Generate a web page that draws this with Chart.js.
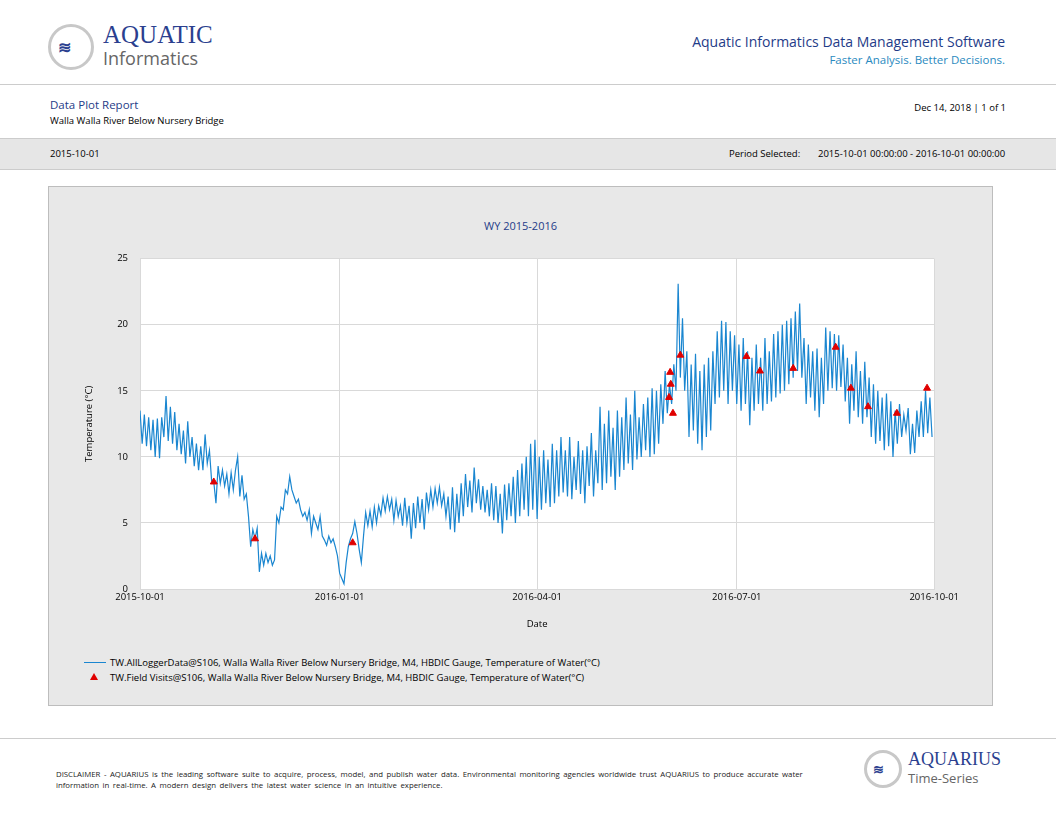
<!DOCTYPE html>
<html><head><meta charset="utf-8">
<script src="https://cdn.jsdelivr.net/npm/chart.js@4/dist/chart.umd.min.js"></script>
<style>
body{margin:0;width:1056px;height:816px;background:#fff;font-family:"Open Sans","Liberation Sans",sans-serif;position:relative;overflow:hidden}
.a{position:absolute;white-space:nowrap}
</style></head><body>
<!-- header -->
<div class="a" style="left:48px;top:24px;width:46px;height:46px;border-radius:50%;border:3px solid #c8c8c8;box-sizing:border-box;background:#fff"></div>
<div class="a" style="left:58px;top:36px;color:#2b3f8f;font-size:16px;font-weight:bold;letter-spacing:-1px">≋</div>
<div class="a" style="left:103px;top:21px;color:#2b3f8f;font-size:25px;font-family:'Liberation Serif',serif;line-height:28px">AQUATIC</div>
<div class="a" style="left:103px;top:47px;color:#666;font-size:18px;line-height:22px">Informatics</div>
<div class="a" style="right:51px;top:32px;color:#1f3c88;font-size:14px">Aquatic Informatics Data Management Software</div>
<div class="a" style="right:51px;top:52px;color:#2a8ac0;font-size:11.5px">Faster Analysis. Better Decisions.</div>
<div class="a" style="left:0;top:84px;width:1056px;border-top:1px solid #ccc"></div>
<div class="a" style="left:50px;top:97px;color:#1f3c88;font-size:11.5px">Data Plot Report</div>
<div class="a" style="left:50px;top:114px;color:#000;font-size:9.5px">Walla Walla River Below Nursery Bridge</div>
<div class="a" style="right:50px;top:101px;color:#000;font-size:9.5px">Dec 14, 2018 | 1 of 1</div>
<div class="a" style="left:0;top:138px;width:1056px;height:30px;background:#e6e6e6;border-top:1px solid #ccc;border-bottom:1px solid #ccc"></div>
<div class="a" style="left:50px;top:147px;font-size:9.5px">2015-10-01</div>
<div class="a" style="left:729px;top:147px;font-size:9.5px">Period Selected:</div>
<div class="a" style="left:818px;top:147px;font-size:9.5px">2015-10-01 00:00:00 - 2016-10-01 00:00:00</div>
<!-- panel -->
<div class="a" style="left:48px;top:186px;width:945px;height:520px;background:#e8e8e8;border:1px solid #bdbdbd;box-sizing:border-box"></div>
<div class="a" style="left:48px;top:218px;width:945px;text-align:center;color:#1f3c88;font-size:11px">WY 2015-2016</div>
<div class="a" style="left:80px;top:241px;width:882px;height:393px"><canvas id="c"></canvas></div>
<div class="a" style="left:84px;top:662px;width:22px;border-top:1px solid #1a86d0"></div>
<div class="a" style="left:110px;top:656px;font-size:9.5px">TW.AllLoggerData@S106, Walla Walla River Below Nursery Bridge, M4, HBDIC Gauge, Temperature of Water(°C)</div>
<div class="a" style="left:90px;top:673px;width:0;height:0;border-left:4px solid transparent;border-right:4px solid transparent;border-bottom:7px solid #e00000"></div>
<div class="a" style="left:110px;top:671px;font-size:9.5px">TW.Field Visits@S106, Walla Walla River Below Nursery Bridge, M4, HBDIC Gauge, Temperature of Water(°C)</div>
<!-- footer -->
<div class="a" style="left:0;top:738px;width:1056px;border-top:1px solid #ccc"></div>
<div class="a" style="left:56px;top:769px;font-size:7.8px;line-height:11px;white-space:normal;width:765px;color:#222;word-spacing:1.5px">DISCLAIMER - AQUARIUS is the leading software suite to acquire, process, model, and publish water data. Environmental monitoring agencies worldwide trust AQUARIUS to produce accurate water information in real-time. A modern design delivers the latest water science in an intuitive experience.</div>
<div class="a" style="left:864px;top:750px;width:38px;height:38px;border-radius:50%;border:3px solid #c8c8c8;box-sizing:border-box"></div>
<div class="a" style="left:873px;top:760px;color:#2b3f8f;font-size:13px;font-weight:bold">≋</div>
<div class="a" style="left:908px;top:749px;color:#2b3f8f;font-size:18px;font-family:'Liberation Serif',serif">AQUARIUS</div>
<div class="a" style="left:908px;top:769px;color:#666;font-size:13px">Time-Series</div>
<script>
// days since 2015-10-01
const tickDays = [0, 92, 183, 275, 366];
const tickLabels = ['2015-10-01', '2016-01-01', '2016-04-01', '2016-07-01', '2016-10-01'];

// logger temperature, one value per day from 2015-10-01
const loggerTemp = [
  13.5,11,13.2,10.8,13,10.5,12.8,
  10,12.9,9.9,13,11.5,14.6,11.2,
  13.8,11,13.4,10.5,12.5,10.2,12,
  9.5,12.7,10,11.5,9.3,11,9,
  10.8,9,11.7,9.5,10.5,8.2,8.1,
  6.5,9.3,8,9,7.8,8.7,7.2,
  8.8,7.5,9,10,7,8.6,6.8,
  7.2,5.5,3.2,4.5,3.8,4.6,1.3,
  2.7,1.8,2.7,2,2.5,1.8,2.2,
  5.5,5,6.2,6,7.5,7.2,8.5,
  7.5,7,6.5,6.8,6,5.5,5.8,
  5.2,6,4.2,5.5,5,4.5,5.5,
  4,3.7,3.3,4,3.5,3.8,3.2,
  2.5,1.2,0.8,0.4,2,3.2,3.8,
  4.2,5.1,4.2,3,2,4,5.8,
  4.8,5.9,4.7,6.2,5,6.3,5.6,
  6.9,5.9,7,6,6.8,5.2,6.7,
  5.5,6.3,4.8,6.9,5,6.3,3.8,
  6.5,4.6,7,5,6.8,4.5,7.3,
  6,7.5,6.2,7.6,6.5,7.7,6.3,
  7.2,5.5,7,4.5,7.7,4.3,7.2,
  5,8,5.5,8.7,6.2,8.2,5.8,
  9.2,6.5,8.3,6,7.8,5.8,7.5,
  5.5,8,5.2,7.8,5,7.2,4.2,
  7.9,5.2,8,5.5,8.5,5,9,
  5.5,9.5,6,10,5.5,11,6,
  11.3,5.3,10,6,10.5,6.5,9.8,
  6.2,11,6.5,10.5,7,11.5,7.3,
  10.5,7,11.5,6.8,10,7.5,11.2,
  7.2,10.5,6.5,10.8,7.8,11.8,7,
  10.5,8,13.8,7.5,12.5,8,13.5,
  8.5,12.2,7.5,13.5,8.5,13,9,
  14.5,9.5,13.2,9,15,9.8,13,
  10,14,10.5,14.5,10,15.2,10.2,
  15,11,15.5,12.5,16.5,13.3,15.5,
  14,17,15,23.1,16,20.5,15,
  18,11.5,17,12,17.8,11,16.5,
  10.5,17,11.5,17.5,12,18,14,
  19.5,14.5,20.3,15,20.2,14,19.5,
  15,19.2,14,18.5,13.5,19,14,
  18,12.4,17.5,13.5,18.5,14,17.5,
  13.5,19,14,18,14.2,19.3,14.5,
  19.5,14.8,20,15,20.3,15.5,20.5,
  16,21,16.5,21.6,16,19,14,
  18.5,14.5,18,13.5,18.2,13,17.5,
  14,19.8,15,19.5,15.2,19.3,15,
  19.2,15.3,18.5,14.2,17.5,12.5,17,
  13.5,18,13,16.5,12.5,17.2,13,
  16,11.5,15.5,11,15,11.2,14.5,
  10.5,14.8,10.8,14.2,10,13.5,11,
  14,11.5,13.2,12,13.7,10.2,12.5,
  10.3,13.5,11.5,14.2,11.5,15,11.8,
  14.5,11.5
];

// field visits
const visitDays = [34, 53, 98, 243.8, 244.3, 244.6, 245.6, 249, 279.5, 285.7, 301, 320.6, 327.6, 335.5, 348.8, 362.7];
const visitTemp = [8.1, 3.8, 3.5, 14.5, 16.4, 15.5, 13.3, 17.7, 17.6, 16.5, 16.7, 18.3, 15.2, 13.8, 13.3, 15.2];

const tickFont = {family: "'Open Sans', sans-serif", size: 9.5};

const plotBg = {
  id: 'plotBg',
  beforeDraw(chart) {
    const a = chart.chartArea, ctx = chart.ctx;
    ctx.save(); ctx.fillStyle = '#fff';
    ctx.fillRect(a.left, a.top, a.right - a.left, a.bottom - a.top);
    ctx.restore();
  }
};

new Chart(document.getElementById('c'), {
  type: 'line',
  data: {
    datasets: [{
      data: loggerTemp.map((v, i) => ({x: i, y: v})),
      borderColor: '#1a86d0', borderWidth: 1.2, pointRadius: 0, tension: 0, order: 2
    }, {
      type: 'scatter',
      data: visitDays.map((d, i) => ({x: d, y: visitTemp[i]})),
      pointStyle: 'triangle', pointRadius: 4, backgroundColor: '#e00000', borderColor: '#e00000', order: 1
    }]
  },
  options: {
    responsive: true, maintainAspectRatio: false, animation: false,
    layout: {padding: {top: 10, right: 0}},
    plugins: {legend: {display: false}, tooltip: {enabled: false}},
    scales: {
      x: {
        type: 'linear', min: 0, max: 366,
        afterBuildTicks: s => { s.ticks = tickDays.map(v => ({value: v})); },
        afterFit: s => { s.height = 45; },
        ticks: {maxRotation: 0, color: '#000', font: tickFont,
          callback: v => tickLabels[tickDays.indexOf(v)]},
        grid: {color: '#d9d9d9', drawTicks: false},
        border: {color: '#d9d9d9'},
        title: {display: true, text: 'Date', color: '#000', font: tickFont, padding: {top: 4}}
      },
      y: {
        min: 0, max: 25,
        afterFit: s => { s.width = 60; },
        ticks: {stepSize: 5, color: '#000', font: tickFont, padding: 12},
        grid: {color: '#d9d9d9', drawTicks: false},
        border: {color: '#d9d9d9'},
        title: {display: true, text: 'Temperature (°C)', color: '#000', font: tickFont}
      }
    }
  },
  plugins: [plotBg]
});
</script>
</body></html>
